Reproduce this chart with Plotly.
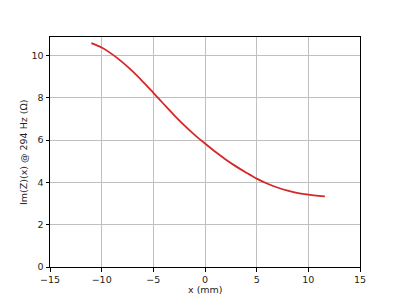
import plotly.graph_objects as go

x_mm = [-11, -10, -9, -8, -7, -6, -5, -4, -3, -2, -1, 0, 1, 2, 3, 4, 5, 6, 7, 8, 9, 10, 11, 11.6]
im_z = [10.59, 10.38, 10.07, 9.69, 9.25, 8.76, 8.24, 7.71, 7.19, 6.70, 6.25, 5.84, 5.45, 5.09, 4.76, 4.46, 4.18, 3.95, 3.76, 3.61, 3.50, 3.42, 3.36, 3.34]

x_ticks = [-15, -10, -5, 0, 5, 10, 15]
y_ticks = [0, 2, 4, 6, 8, 10]

fig = go.Figure()
fig.add_trace(go.Scatter(x=x_mm, y=im_z, mode="lines",
                         line=dict(color="#d62728", width=1.8, shape="spline", smoothing=1.0),
                         showlegend=False))

axis_common = dict(showline=True, linecolor="black", linewidth=1, mirror=True,
                   ticks="outside", ticklen=3.5, tickcolor="black",
                   showgrid=True, gridcolor="#c0c0c0", gridwidth=0.8,
                   zeroline=False, tickfont=dict(size=9.5, color="#222"),
                   automargin=False)

fig.update_layout(
    width=400, height=300,
    margin=dict(l=50, r=40, t=37, b=33),
    paper_bgcolor="white", plot_bgcolor="white",
    font=dict(family="DejaVu Sans", size=9.5, color="#222"),
    xaxis=dict(range=[-15, 15], tickvals=x_ticks, **axis_common),
    yaxis=dict(range=[0, 10.88], tickvals=y_ticks, **axis_common),
    annotations=[
        dict(text="x (mm)", xref="paper", yref="paper", x=0.5, y=-0.096,
             xanchor="center", yanchor="middle", showarrow=False,
             font=dict(size=9.5, color="#222")),
        dict(text="Im(Z)(x) @ 294 Hz (Ω)", xref="paper", yref="paper", x=-0.087, y=0.5,
             xanchor="center", yanchor="middle", textangle=-90, showarrow=False,
             font=dict(size=9.5, color="#222")),
    ],
)

fig.write_html("out.html")
